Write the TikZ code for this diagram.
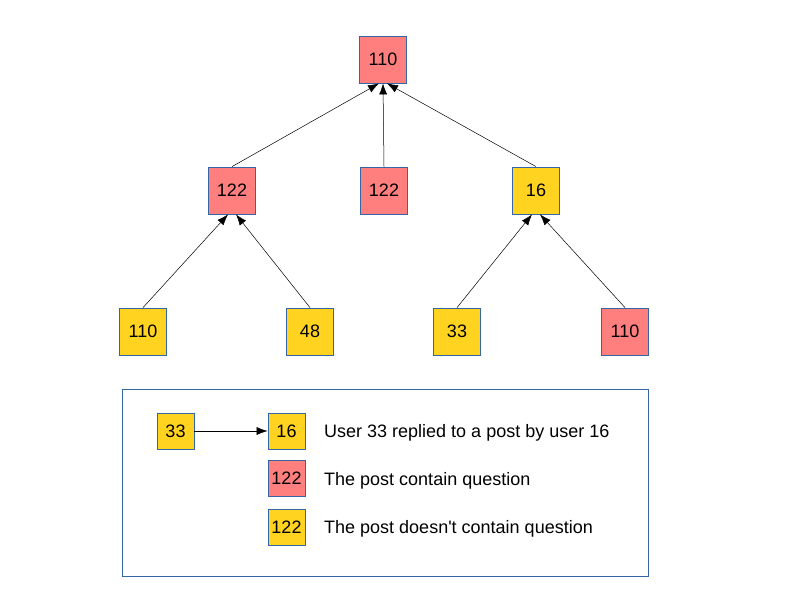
\documentclass[tikz,border=0pt]{standalone}
\usepackage{fontspec}
\setmainfont{Liberation Sans}
\usetikzlibrary{arrows.meta}
\definecolor{qred}{HTML}{FF7F7F}
\definecolor{qyel}{HTML}{FFD320}
\definecolor{qblue}{HTML}{3465A4}
\begin{document}
\begin{tikzpicture}[x=1pt,y=-1pt,
  box/.style={draw=qblue,line width=0.8pt,minimum width=47pt,minimum height=47pt,inner sep=0pt,font=\fontsize{18}{21}\selectfont},
  lbox/.style={draw=qblue,line width=0.8pt,minimum width=37pt,minimum height=36pt,inner sep=0pt,font=\fontsize{18}{21}\selectfont},
  red/.style={fill=qred},
  yel/.style={fill=qyel},
  edge/.style={draw=black,line width=0.5pt,-{Latex[length=11pt,width=8pt]}},
  ltext/.style={anchor=west,inner sep=0pt,font=\fontsize{18}{21}\selectfont,text=black}]
\useasboundingbox (0,0) rectangle (794,595);
\node[box,red] (top) at (383,59.5) {110};
\node[box,red] (a) at (232,190.5) {122};
\node[box,red] (b) at (384,190.5) {122};
\node[box,yel] (c) at (536,190.5) {16};
\node[box,yel] (a1) at (143,331.5) {110};
\node[box,yel] (a2) at (310,331.5) {48};
\node[box,yel] (c1) at (457,331.5) {33};
\node[box,red] (c2) at (625,331.5) {110};
\draw[edge] (a.north) -- ([xshift=-4pt]top.south);
\draw[edge] (b.north) -- (top.south);
\draw[edge] (c.north) -- ([xshift=4pt]top.south);
\draw[edge] (a1.north) -- ([xshift=-4pt]a.south);
\draw[edge] (a2.north) -- ([xshift=4pt]a.south);
\draw[edge] (c1.north) -- ([xshift=-4pt]c.south);
\draw[edge] (c2.north) -- ([xshift=4pt]c.south);
% legend
\node[draw=qblue,line width=0.8pt,minimum width=526pt,minimum height=187pt,inner sep=0pt] (leg) at (385,482.5) {};
\node[lbox,yel] (l1) at (175.5,431) {33};
\node[lbox,yel] (l2) at (286.5,431) {16};
\node[lbox,red] (l3) at (286.5,478.5) {122};
\node[lbox,yel] (l4) at (286.5,527) {122};
\draw[edge] (l1.east) -- (l2.west);
\node[ltext] (t1) at (324,433) {User 33 replied to a post by user 16};
\node[ltext] (t2) at (324,481) {The post contain question};
\node[ltext] (t3) at (324,529) {The post doesn\textquotesingle t contain question};
\end{tikzpicture}
\end{document}
